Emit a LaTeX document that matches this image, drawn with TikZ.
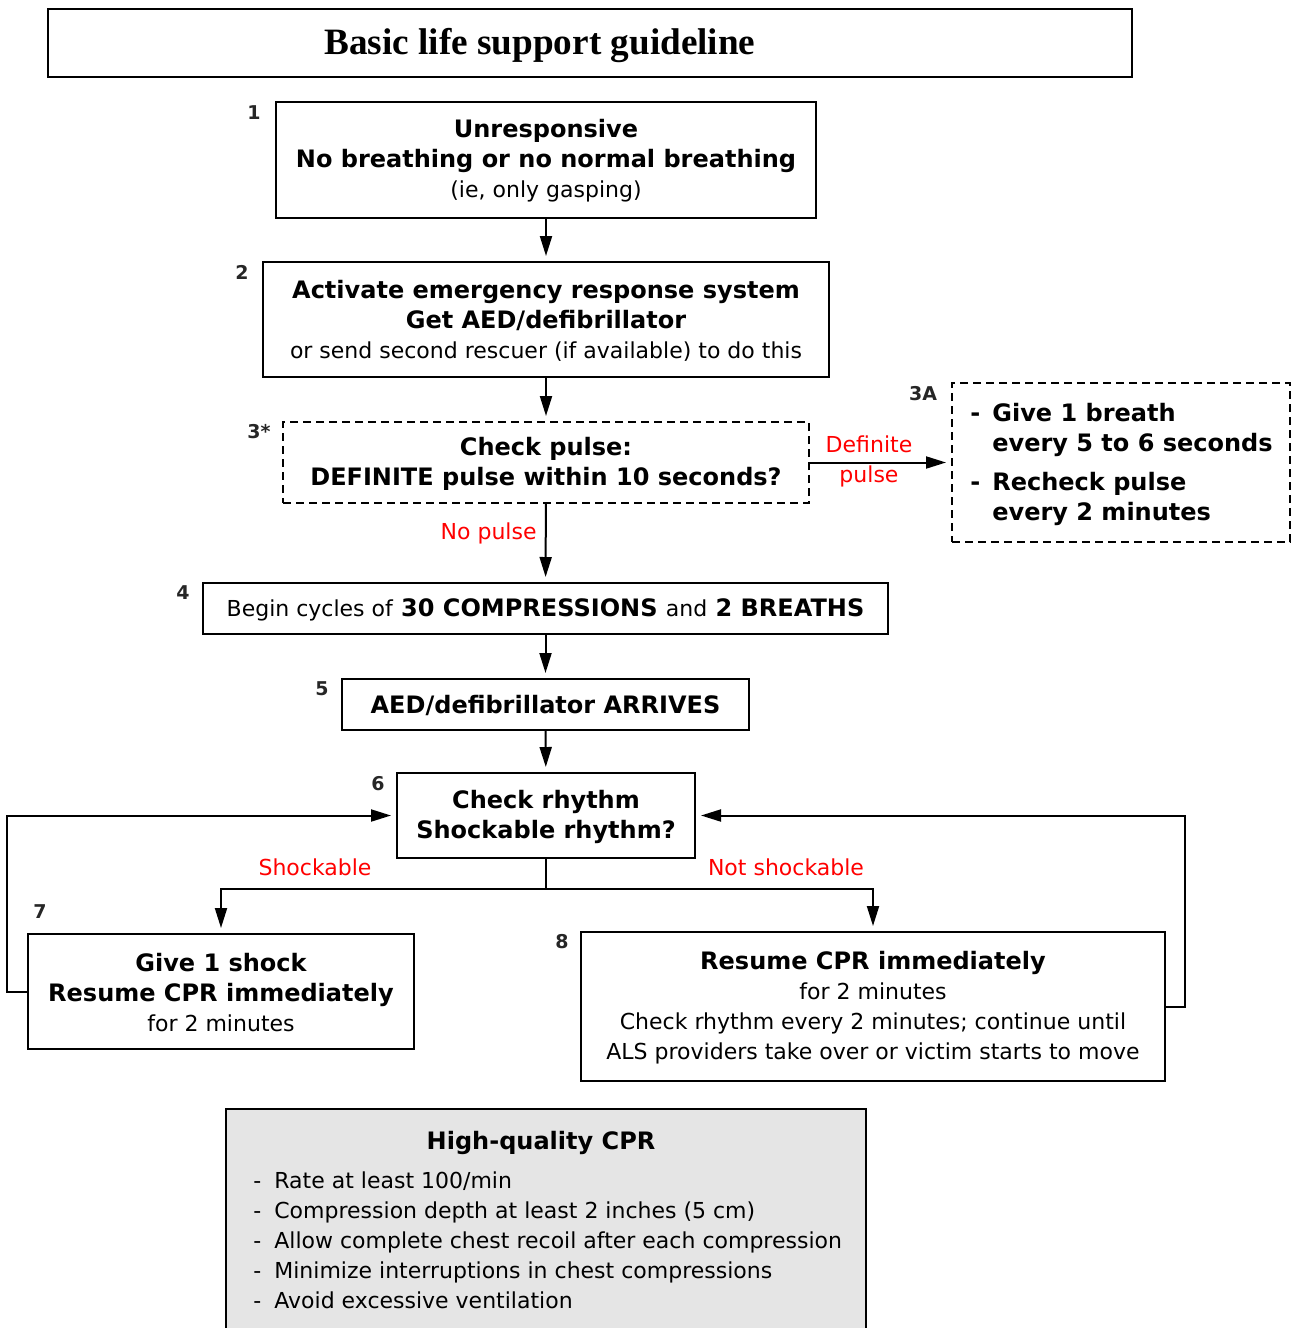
\documentclass[tikz,border=0pt]{standalone}
\usepackage{fontspec}
\setmainfont{DejaVu Sans}
\newfontfamily\titlefont{Liberation Serif}
\usetikzlibrary{arrows.meta,fit}
\newcommand\rgtxt{\fontsize{11}{15}\selectfont\mdseries}
\newcommand\bdtxt{\fontsize{12}{15}\selectfont\bfseries}
\begin{document}
\begin{tikzpicture}[x=0.5pt,y=-0.5pt,
  box/.style={draw, line width=1pt, inner sep=0pt},
  dbox/.style={box, dash pattern=on 4pt off 2.5pt},
  txt/.style={inner sep=0pt, align=center, font=\bdtxt, yshift=-0.5pt},
  num/.style={font=\fontsize{9.5}{11}\selectfont\bfseries, text=black!85},
  lbl/.style={font=\fontsize{11}{15}\selectfont, text=red, align=center, inner sep=0pt},
  arr/.style={line width=1pt, -{Triangle[length=10pt,width=6pt]}, shorten >=2.5pt},
  ln/.style={line width=1pt},
  lst/.style={inner sep=0pt, align=left, anchor=north west}
]
\path[use as bounding box] (0,0) rectangle (1296,1328);
\clip (0,0) rectangle (1296,1328);

% title
\node[draw, line width=0.8pt, fit={(48,9) (1132,77)}, inner sep=0pt] (tbox) {};
\node[font=\titlefont\fontsize{18.6}{20}\selectfont\bfseries] (title) at (540,46) {Basic life support guideline};

% boxes
\node[box, fit={(276,102) (816,218)}] (b1) {};
\node[txt] (t1) at (b1.center) {Unresponsive\\No breathing or no normal breathing\\{\rgtxt (ie, only gasping)}};
\node[box, fit={(263,262) (829,377)}] (b2) {};
\node[txt] (t2) at (b2.center) {Activate emergency response system\\Get AED/defibrillator\\{\rgtxt or send second rescuer (if available) to do this}};
\node[dbox, fit={(283,422) (809,503)}] (b3) {};
\node[txt] (t3) at (b3.center) {Check pulse:\\DEFINITE pulse within 10 seconds?};
\node[dbox, fit={(952,383) (1290,542)}] (b3a) {};
\node[lst, font=\bdtxt] (l3a) at (970,403) {\makebox[11pt][l]{-}Give 1 breath\\\hphantom{\makebox[11pt][l]{-}}every 5 to 6 seconds\\[4.5pt]\makebox[11pt][l]{-}Recheck pulse\\\hphantom{\makebox[11pt][l]{-}}every 2 minutes};
\node[box, fit={(203,583) (888,634)}] (b4) {};
\node[txt] (t4) at (b4.center) {{\rgtxt Begin cycles of} 30 COMPRESSIONS {\rgtxt and} 2 BREATHS};
\node[box, fit={(342,679) (749,730)}] (b5) {};
\node[txt] (t5) at (b5.center) {AED/defibrillator ARRIVES};
\node[box, fit={(397,773) (695,858)}] (b6) {};
\node[txt] (t6) at (b6.center) {Check rhythm\\Shockable rhythm?};
\node[box, fit={(28,934) (414,1049)}] (b7) {};
\node[txt] (t7) at (b7.center) {Give 1 shock\\Resume CPR immediately\\{\rgtxt for 2 minutes}};
\node[box, fit={(581,932) (1165,1081)}] (b8) {};
\node[txt] (t8) at (b8.center) {Resume CPR immediately\\{\rgtxt for 2 minutes}\\{\rgtxt Check rhythm every 2 minutes; continue until}\\{\rgtxt ALS providers take over or victim starts to move}};

% high-quality CPR
\node[draw, line width=1pt, fill=black!10, fit={(226,1109) (866,1345)}, inner sep=0pt] (hq) {};
\node[font=\bdtxt] (hqt) at (541,1143) {High-quality CPR};
\node[lst, font=\rgtxt] (hql) at (253,1171) {%
\makebox[10.5pt][l]{-}Rate at least 100/min\\
\makebox[10.5pt][l]{-}Compression depth at least 2 inches (5 cm)\\
\makebox[10.5pt][l]{-}Allow complete chest recoil after each compression\\
\makebox[10.5pt][l]{-}Minimize interruptions in chest compressions\\
\makebox[10.5pt][l]{-}Avoid excessive ventilation};

% numbers
\node[num] (n1) at (254,113) {1};
\node[num] (n2) at (242,272) {2};
\node[num] (n3) at (259,432) {3*};
\node[num] (n3a) at (923,394) {3A};
\node[num] (n4) at (183,593) {4};
\node[num] (n5) at (322,689) {5};
\node[num] (n6) at (378,784) {6};
\node[num] (n7) at (40,912) {7};
\node[num] (n8) at (562,942) {8};

% labels
\node[lbl] (ldef) at (869,461) {Definite\\pulse};
\node[lbl, anchor=east] (lnop) at (537,533) {No pulse};
\node[lbl] (lsh) at (315,867) {Shockable};
\node[lbl] (lnsh) at (786,867) {Not shockable};

% connectors
\draw[arr] (b1) -- (b2);
\draw[arr] (b2) -- (b3);
\draw[arr] (b3) -- (b4);
\draw[arr] (b3) -- (b3a);
\draw[arr] (b4) -- (b5);
\draw[arr] (b5) -- (b6);
\draw[ln] (b6.south) -- ++(0,30) coordinate (sp);
\draw[arr] (sp) -| (b7.north);
\draw[arr] (sp) -| (b8.north);
\draw[arr] (b7.west) -- ++(-20,0) |- (b6.west);
\draw[arr] (b8.east) -- ++(19,0) |- (b6.east);
\end{tikzpicture}
\end{document}
